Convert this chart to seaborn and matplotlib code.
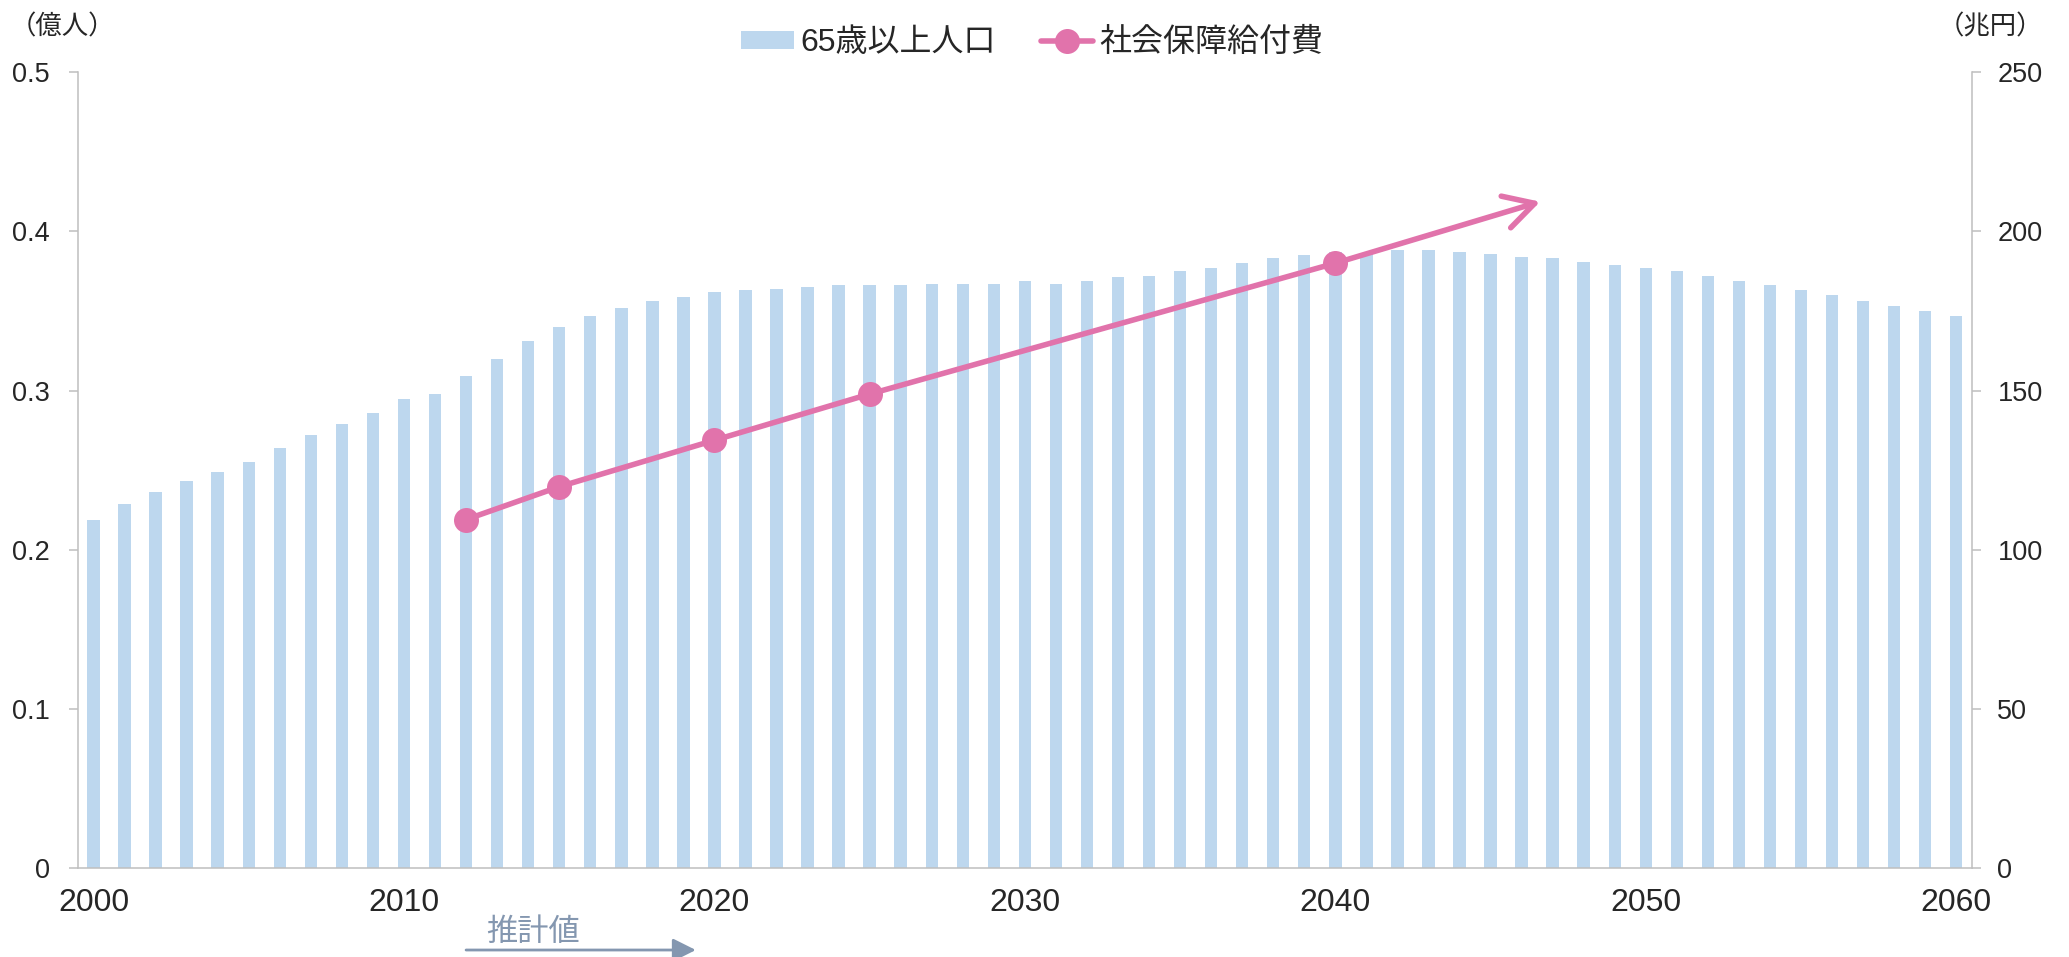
import matplotlib
matplotlib.use('Agg')
import matplotlib.pyplot as plt
import seaborn as sns

# data
years = list(range(2000, 2061))
pop = [0.219, 0.229, 0.236, 0.243, 0.249, 0.255, 0.264, 0.272, 0.279, 0.286,
       0.295, 0.298, 0.309, 0.320, 0.331, 0.340, 0.347, 0.352, 0.356, 0.359,
       0.362, 0.363, 0.364, 0.365, 0.366, 0.366, 0.366, 0.367, 0.367, 0.367,
       0.369, 0.367, 0.369, 0.371, 0.372, 0.375, 0.377, 0.380, 0.383, 0.385,
       0.387, 0.386, 0.388, 0.388, 0.387, 0.386, 0.384, 0.383, 0.381, 0.379,
       0.377, 0.375, 0.372, 0.369, 0.366, 0.363, 0.360, 0.356, 0.353, 0.350,
       0.347]
cost_years = [2012, 2015, 2020, 2025, 2040]
cost = [109.5, 119.8, 134.4, 148.9, 190.0]
trend_end = (2046.6, 209.3)
proj_span = (2012.0, 2019.4)

bar_label = '65歳以上人口'
line_label = '社会保障給付費'
left_unit = '（億人）'
right_unit = '（兆円）'
proj_label = '推計値'

bar_col = '#bdd7ee'
pink = '#e173ab'
grey = '#bfbfbf'
proj_col = '#8497b0'

sns.set_style('white')
plt.rcParams['font.family'] = ['Liberation Sans', 'Noto Sans CJK JP', 'DejaVu Sans']

fig = plt.figure(figsize=(20.69, 9.57), dpi=100)
ax = fig.add_axes([0.0377, 0.0927, 0.9153, 0.8320])

sns.barplot(x=years, y=pop, native_scale=True, width=0.4, color=bar_col,
            saturation=1, linewidth=0, ax=ax)
ax.set_xlim(1999.5, 2060.5)
ax.set_ylim(0, 0.5)
ax.set_yticks([0, 0.1, 0.2, 0.3, 0.4, 0.5])
ax.set_yticklabels(['0', '0.1', '0.2', '0.3', '0.4', '0.5'])
ax.set_xticks(range(2000, 2061, 10))
ax.set_xticklabels([str(y) for y in range(2000, 2061, 10)])
ax.tick_params(axis='x', length=0, pad=14, labelsize=23)
ax.tick_params(axis='y', length=6.5, width=1.1, color=grey, pad=14, labelsize=19.5)
for s in ['top', 'right']:
    ax.spines[s].set_visible(False)
for s in ['left', 'bottom']:
    ax.spines[s].set_color(grey)
    ax.spines[s].set_linewidth(1.1)
ax.set_xlabel('')
ax.set_ylabel('')

ax2 = ax.twinx()
sns.lineplot(x=cost_years, y=cost, ax=ax2, color=pink, linewidth=4,
             marker='o', markersize=18, markeredgewidth=0)
ax2.set_ylim(0, 250)
ax2.set_yticks([0, 50, 100, 150, 200, 250])
ax2.tick_params(axis='y', length=6.5, width=1.1, color=grey, pad=12, labelsize=19.5)
for s in ['top', 'left', 'bottom']:
    ax2.spines[s].set_visible(False)
ax2.spines['right'].set_color(grey)
ax2.spines['right'].set_linewidth(1.1)
ax2.set_ylabel('')
ax2.grid(False)

# trend arrow beyond 2040
ax2.annotate('', xy=trend_end, xytext=(cost_years[-1], cost[-1]),
             arrowprops=dict(arrowstyle='->,head_length=0.6,head_width=0.33',
                             color=pink, lw=4, mutation_scale=36,
                             shrinkA=0, shrinkB=0))

# projection marker under the x axis
ax.annotate('', xy=(proj_span[1], 0.0073), xytext=(proj_span[0], 0.0073),
            xycoords=('data', 'figure fraction'), textcoords=('data', 'figure fraction'),
            arrowprops=dict(arrowstyle='-|>,head_length=0.7,head_width=0.35',
                            color=proj_col, lw=2, mutation_scale=20,
                            shrinkA=0, shrinkB=0))
ax.annotate(proj_label, xy=(2014.15, 0.025), xycoords=('data', 'figure fraction'),
            ha='center', va='center', fontsize=22.5, color=proj_col)

fig.text(0.0300, 0.972, left_unit, ha='center', va='center', fontsize=19)
fig.text(0.9620, 0.972, right_unit, ha='center', va='center', fontsize=19)

for a in (ax, ax2):
    if a.get_legend() is not None:
        a.get_legend().remove()
fig.legend([ax.containers[0], ax2.lines[0]], [bar_label, line_label],
           loc='center', bbox_to_anchor=(0.499, 0.955), ncol=2, frameon=False,
           fontsize=23, handlelength=1.65, handleheight=0.5, handletextpad=0.2,
           columnspacing=1.4)

fig.savefig('out.png', dpi=100)
